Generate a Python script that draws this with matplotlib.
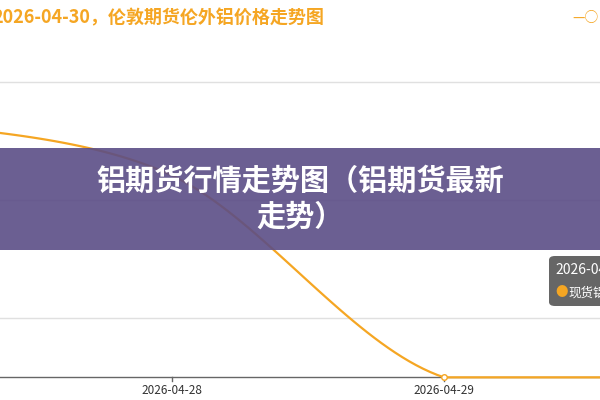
import matplotlib
matplotlib.use("Agg")
import matplotlib.pyplot as plt
import numpy as np
from matplotlib.patches import FancyBboxPatch, Rectangle

plt.rcParams['font.family'] = ['Noto Sans CJK SC', 'DejaVu Sans']

dates = ["2026-04-27", "2026-04-28", "2026-04-29", "2026-04-30"]
prices = [272, 214, 0, 22]
grid_vals = [63, 188, 313]

fig = plt.figure(figsize=(6, 4), dpi=100)
ax = fig.add_axes([0, 0, 1, 1])
x = np.arange(len(dates))
# Catmull-Rom style smooth rendering through data points
xs, ys = [], []
P = list(zip(x, prices))
P = [P[0]] + P + [P[-1]]
for i in range(1, len(P) - 2):
    p0, p1, p2, p3 = [np.array(p, float) for p in P[i-1:i+3]]
    t = np.linspace(0, 1, 40)[:, None]
    c = 0.5 * ((2*p1) + (-p0+p2)*t + (2*p0-5*p1+4*p2-p3)*t**2 + (-p0+3*p1-3*p2+p3)*t**3)
    xs.extend(c[:, 0]); ys.extend(np.maximum(c[:, 1], 0))
ax.plot(xs, ys, color='#f5a623', lw=1.6, zorder=3)
ax.plot(x[2], prices[2], 'o', ms=4, mfc='white', mec='#f5a623', zorder=4)

ax.set_xlim(0.3676, 2.5735)
ax.set_ylim(-24, 400)
for g in grid_vals:
    ax.axhline(g, color='#e0e0e0', lw=1)
ax.axhline(0, color='#666666', lw=1)
for i in (1, 2):
    ax.text(x[i], -7, dates[i], ha='center', va='top', fontsize=8.5, color='#333333')
    ax.plot([x[i], x[i]], [0, -4], color='#666666', lw=1)
ax.axis('off')

fig.text(-0.012, 0.955, "2026-04-30，伦敦期货伦外铝价格走势图", fontsize=13, color='#f5a623',
         fontweight='bold', va='center')
fig.text(0.975, 0.955, "—○", fontsize=10, color='#f5a623', ha='center', va='center')

fig.patches.append(Rectangle((0, 0.375), 1, 0.255, transform=fig.transFigure,
                             facecolor='#5b4d86', alpha=0.9, zorder=5))
fig.text(0.5, 0.5025, "铝期货行情走势图（铝期货最新\n走势）", fontsize=21, color='white',
         fontweight='bold', ha='center', va='center', linespacing=1.25, zorder=6)

fig.patches.append(FancyBboxPatch((0.915, 0.235), 0.12, 0.125, boxstyle='round,pad=0,rounding_size=0.01',
                                  transform=fig.transFigure, facecolor='#555555', alpha=0.9,
                                  edgecolor='none', zorder=5))
fig.text(0.925, 0.325, "2026-04-30", fontsize=10, color='white', va='center', zorder=6)
fig.text(0.948, 0.268, "现货铝", fontsize=9, color='white', va='center', zorder=6)
fig.text(0.925, 0.268, "●", fontsize=9, color='#f5a623', va='center', zorder=6)

fig.savefig("out.png", dpi=100)
